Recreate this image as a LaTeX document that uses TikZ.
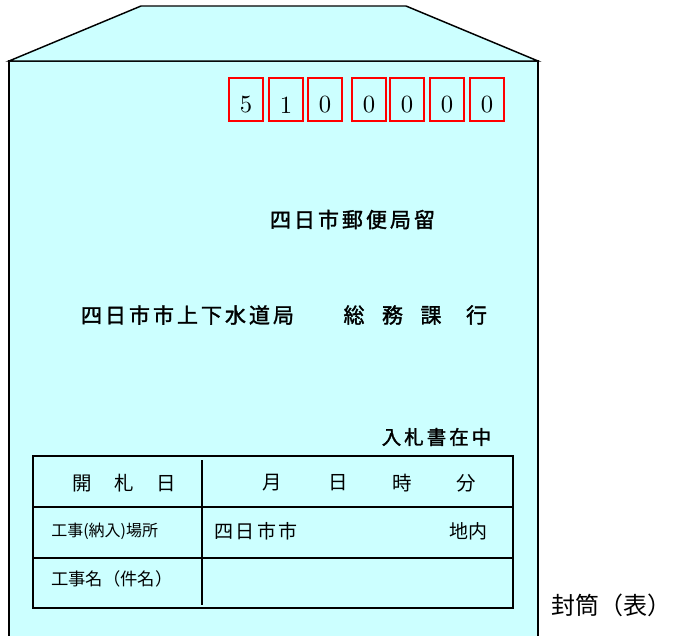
\documentclass[tikz,border=0pt]{standalone}
\usepackage{graphicx}
\usepackage{fontspec}
\newfontfamily\jp{Noto Sans CJK JP}
\newfontfamily\jpb[FakeBold=1.6]{Noto Sans CJK JP}
\newdimen\px \px=0.75pt
\ExplSyntaxOn
\NewDocumentCommand\spc{m m}{\tl_map_inline:nn{#2}{\makebox[#1][c]{##1}}}
\ExplSyntaxOff
\newcommand\zipd[1]{\scalebox{1.85}{\fontsize{10pt}{12pt}\selectfont #1}}
\definecolor{envfill}{HTML}{CCFFFF}
\definecolor{zipred}{HTML}{FF0000}
\tikzset{
  env/.style={draw=black,line width=1.1pt,line join=miter},
  zipbox/.style={draw=zipred,line width=1.6pt,minimum width=34.5\px,minimum height=43.5\px,inner sep=0pt},
  zipdigit/.style={inner sep=0pt},
  hd/.style={inner sep=0pt,font=\jpb\fontsize{15.75pt}{18pt}\selectfont},
  hdsmall/.style={inner sep=0pt,font=\jpb\fontsize{14.6pt}{16pt}\selectfont},
  tline/.style={draw=black,line width=1.5pt},
  tcellbig/.style={inner sep=0pt,font=\jp\fontsize{14.6pt}{16pt}\selectfont},
  tcell/.style={inner sep=0pt,font=\jp\fontsize{14.25pt}{16pt}\selectfont},
  tcells/.style={inner sep=0pt,font=\jp\fontsize{12pt}{14pt}\selectfont},
  tcellm/.style={inner sep=0pt,font=\jp\fontsize{13pt}{15pt}\selectfont},
  caption/.style={inner sep=0pt,font=\jp\fontsize{18pt}{20pt}\selectfont}
}
\begin{document}
\begin{tikzpicture}[x=0.75pt,y=-0.75pt]
\useasboundingbox (0,0) rectangle (676,636);
% envelope body
\fill[envfill] (9,61) rectangle (538,640);
\draw[env] (9,640) -- (9,61) -- (538,61) -- (538,640);
% flap
\filldraw[env,fill=envfill] (9,61) -- (141,6) -- (406,6) -- (538,61) -- cycle;
% postal code boxes
\foreach \i/\xl/\d in {1/228/5,2/268/1,3/307/0,4/351/0,5/389/0,6/429/0,7/469/0}{
  \node[zipbox] (z\i) at (\xl+18,99.5) {};
  \node[zipdigit] (d\i) at (\xl+18,105) {\zipd{\d}};
}
% address lines
\node[hd] (post) at (352.5,219.5) {\spc{24\px}{四日市郵便局留}};
\node[hd] (dept) at (187.5,315) {\spc{24\px}{四日市市上下水道局}};
\node[hd] (sect) at (392.5,315) {\spc{38.5\px}{総務課}};
\node[hd] (go) at (476.5,315) {行};
\node[hdsmall] (enc) at (436.5,437) {\spc{22.5\px}{入札書在中}};
% table
\draw[tline] (33,456) rectangle (513,608);
\draw[tline] (33,507) -- (513,507);
\draw[tline] (33,558) -- (513,558);
\draw[tline] (202,460) -- (202,605);
\node[tcellbig] (open) at (124,483) {\spc{42\px}{開札日}};
\node[tcellbig] (mon) at (272.5,483) {月};
\node[tcellbig] (day) at (338,483) {日};
\node[tcellbig] (hr) at (402,483) {時};
\node[tcellbig] (min) at (466,483) {分};
\node[tcells,anchor=west] (place) at (51,531) {工事(納入)場所};
\node[tcell] (city) at (256,531) {\spc{21.5\px}{四日市市}};
\node[tcell] (area) at (468,531) {地内};
\node[tcellm,anchor=west] (work) at (51,579) {工事名（件名）};
% caption
\node[caption,anchor=west] (cap) at (551,605) {封筒（表）};
\end{tikzpicture}
\end{document}
